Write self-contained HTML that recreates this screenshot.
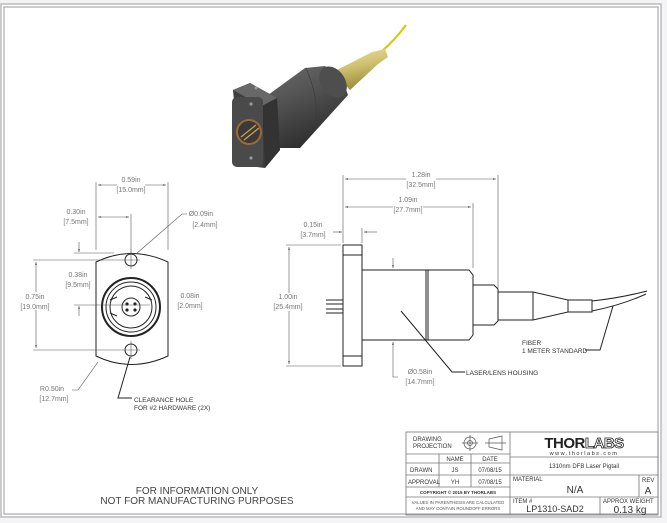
<!DOCTYPE html>
<html><head><meta charset="utf-8"><style>
body{margin:0;background:#f4f4f6;}
svg{display:block;font-family:"Liberation Sans",sans-serif;}
.d{font-size:7px;fill:#777;text-anchor:middle}
.l{font-size:6.5px;fill:#333}
.k{stroke:#222;stroke-width:1;fill:none}
.t{stroke:#555;stroke-width:.6;fill:none}
.tb{font-size:6px;fill:#333}
</style></head><body>
<svg width="667" height="523" viewBox="0 0 667 523">
<defs>
<marker id="a" viewBox="0 0 10 10" refX="10" refY="5" markerWidth="5" markerHeight="5" orient="auto-start-reverse"><path d="M0,2 L10,5 L0,8z" fill="#555"/></marker>
<linearGradient id="g1" x1="0" y1="0" x2="0.4" y2="1"><stop offset="0" stop-color="#6a6a6a"/><stop offset=".4" stop-color="#555"/><stop offset="1" stop-color="#2e2e2e"/></linearGradient>
<linearGradient id="g2" x1="0" y1="0" x2="0.3" y2="1"><stop offset="0" stop-color="#eee6a8"/><stop offset=".5" stop-color="#cfc070"/><stop offset="1" stop-color="#9a8c3a"/></linearGradient>
</defs>
<rect x="0" y="0" width="667" height="523" fill="#f4f4f6"/>
<rect x="1" y="4" width="660" height="513" fill="#fff" stroke="#bbb" stroke-width="1.5"/>
<rect x="4" y="7" width="654" height="507" fill="#fff" stroke="#999" stroke-width="1"/>

<!-- 3D render -->
<g>
<path d="M381,52 Q395,40 406,25" stroke="#d8c800" stroke-width="2" fill="none"/>
<polygon points="333,72 372,52 385,49 388,57 378,64 350,90" fill="url(#g2)"/>
<polygon points="268,95 305,68 325,66 342,78 348,95 300,148 280,148" fill="url(#g1)"/>
<ellipse cx="333" cy="82" rx="12" ry="17" transform="rotate(-35 333 82)" fill="#4e4e4e"/>
<path d="M306,68 Q320,100 315,125" stroke="#3a3a3a" stroke-width=".6" fill="none"/>
<polygon points="233,90 250,83 277,98 280,150 265,168 240,165" fill="#3e3e3e"/>
<path d="M233,90 L250,83 L277,98 L262,106z" fill="#686868"/>
<path d="M262,106 L277,98 L280,150 L265,168z" fill="#333"/>
<rect x="232" y="97" width="31" height="70" rx="5" fill="#4a4a4a"/>
<circle cx="249" cy="132" r="12" fill="#3a3a3a" stroke="#9a6a35" stroke-width="2"/>
<path d="M241,137 L256,125 M244,140 L259,128" stroke="#c8a050" stroke-width="1.3"/>
<circle cx="251" cy="104" r="1.6" fill="#999"/><circle cx="251" cy="158" r="1.6" fill="#999"/>
<circle cx="256" cy="88" r="1.5" fill="#999"/>
</g>

<!-- Front view -->
<g>
<path class="k" d="M96,262 Q131,245 168,262 L168,356 Q131,373 96,356 Z"/>
<circle class="k" cx="131" cy="260" r="6"/><circle class="k" cx="131" cy="350" r="6"/>
<path class="t" d="M122,260 H140 M131,251 V269 M122,350 H140 M131,341 V359"/>
<circle cx="131" cy="307" r="29" fill="none" stroke="#222" stroke-width="2"/>
<circle class="k" cx="131" cy="307" r="25"/>
<circle class="k" cx="131" cy="307" r="21"/>
<path class="k" d="M110,300 L117,297 M145,297 L152,300 M110,313 L117,316"/>
<circle class="k" cx="131" cy="307" r="9"/>
<circle cx="127" cy="304" r="1.6" fill="#222"/><circle cx="135" cy="304" r="1.6" fill="#222"/><circle cx="127" cy="310" r="1.6" fill="#222"/><circle cx="135" cy="310" r="1.6" fill="#222"/>
<path class="t" d="M96,250 V182 M168,250 V182 M131,254 V214"/>
<line class="t" x1="98" y1="185" x2="166" y2="185" marker-start="url(#a)" marker-end="url(#a)"/>
<rect x="117" y="176" width="28" height="18" fill="#fff"/>
<text class="d" x="131" y="182">0.59in</text><text class="d" x="131" y="192">[15.0mm]</text>
<line class="t" x1="98" y1="217" x2="129" y2="217" marker-start="url(#a)" marker-end="url(#a)"/>
<text class="d" x="76" y="214">0.30in</text><text class="d" x="76" y="224">[7.5mm]</text>
<text class="d" x="201" y="216">Ø0.09in</text><text class="d" x="205" y="227">[2.4mm]</text>
<polyline class="t" points="187,214 182,214 136,254"/>
<line class="t" x1="33" y1="260" x2="122" y2="260"/><line class="t" x1="33" y1="350" x2="122" y2="350"/>
<line class="t" x1="36" y1="262" x2="36" y2="348" marker-start="url(#a)" marker-end="url(#a)"/>
<rect x="24" y="292" width="24" height="18" fill="#fff"/>
<text class="d" x="35" y="299">0.75in</text><text class="d" x="35" y="309">[19.0mm]</text>
<path class="t" d="M74,253 H114 M74,305 H150"/>
<line class="t" x1="79" y1="242" x2="79" y2="252" marker-end="url(#a)"/>
<line class="t" x1="79" y1="316" x2="79" y2="306" marker-end="url(#a)"/>
<text class="d" x="78" y="277">0.38in</text><text class="d" x="78" y="287">[9.5mm]</text>
<text class="d" x="190" y="298">0.08in</text><text class="d" x="190" y="308">[2.0mm]</text>
<path class="t" d="M98,362 L78,390 H72"/>
<text class="d" x="52" y="391">R0.50in</text><text class="d" x="54" y="401">[12.7mm]</text>
<path class="k" stroke-width=".8" d="M130,357 L118,398 H132"/>
<text class="l" x="134" y="402">CLEARANCE HOLE</text><text class="l" x="134" y="410">FOR #2 HARDWARE (2X)</text>
</g>

<!-- Side view -->
<g>
<rect class="k" x="343" y="245" width="19" height="121"/>
<path class="k" d="M343,255 H362 M343,356 H362"/>
<path class="k" d="M326,300 H343 M326,304 H343 M326,309 H343 M326,313 H343"/>
<rect class="k" x="362" y="270" width="64" height="70"/>
<path class="k" d="M426,270 H469 L473,275 V335 L469,340 H426 M428,270 V340"/>
<path class="k" d="M473,285 H494 L498,289 V321 L494,325 H473"/>
<rect class="k" x="498" y="292" width="35" height="28"/>
<path class="k" d="M533,292 L568,300 V312 L533,320"/>
<rect class="k" x="568" y="300" width="24" height="12"/>
<path class="k" d="M592,301 Q620,298 647,291 M592,311 Q622,305 646,294"/>
<path class="t" d="M343,243 V175 M498,288 V175 M473,268 V203"/>
<line class="t" x1="345" y1="179" x2="496" y2="179" marker-start="url(#a)" marker-end="url(#a)"/>
<rect x="406" y="170" width="30" height="20" fill="#fff"/>
<text class="d" x="421" y="177">1.28in</text><text class="d" x="421" y="187">[32.5mm]</text>
<line class="t" x1="345" y1="207" x2="471" y2="207" marker-start="url(#a)" marker-end="url(#a)"/>
<rect x="393" y="198" width="30" height="20" fill="#fff"/>
<text class="d" x="408" y="202">1.09in</text><text class="d" x="408" y="212">[27.7mm]</text>
<path class="t" d="M362,243 V228"/>
<line class="t" x1="333" y1="232" x2="342" y2="232" marker-end="url(#a)"/>
<line class="t" x1="377" y1="232" x2="364" y2="232" marker-end="url(#a)"/>
<text class="d" x="313" y="227">0.15in</text><text class="d" x="313" y="237">[3.7mm]</text>
<path class="t" d="M286,245 H341 M286,366 H341"/>
<line class="t" x1="289" y1="247" x2="289" y2="364" marker-start="url(#a)" marker-end="url(#a)"/>
<rect x="276" y="293" width="26" height="18" fill="#fff"/>
<text class="d" x="288" y="299">1.00in</text><text class="d" x="288" y="309">[25.4mm]</text>
<line class="t" x1="393" y1="258" x2="393" y2="268" marker-end="url(#a)"/>
<line class="t" x1="393" y1="360" x2="393" y2="342" marker-end="url(#a)"/>
<path class="t" d="M393,360 V377 H398"/>
<text class="d" x="420" y="374">Ø0.58in</text><text class="d" x="420" y="384">[14.7mm]</text>
<path class="k" stroke-width=".8" d="M401,311 L452,372 H465"/>
<text class="l" x="466" y="375">LASER/LENS HOUSING</text>
<path class="k" stroke-width=".8" d="M613,306 L600,350 H585"/>
<text class="l" x="522" y="345">FIBER</text><text class="l" x="522" y="353">1 METER STANDARD</text>
</g>

<text x="197" y="494" font-size="10" fill="#444" text-anchor="middle">FOR INFORMATION ONLY</text>
<text x="197" y="504" font-size="10" fill="#444" text-anchor="middle">NOT FOR MANUFACTURING PURPOSES</text>

<!-- Title block -->
<g stroke="#777" stroke-width=".8" fill="none">
<rect x="406" y="432" width="252" height="83"/>
<path d="M510,432 V515 M406,454 H510 M406,463 H510 M406,475 H510 M406,487 H510 M406,497 H658 M439,454 V487 M471,454 V487 M510,457 H658 M510,475 H658 M639,475 V497 M600,497 V515"/>
</g>
<text class="tb" x="413" y="441">DRAWING</text><text class="tb" x="413" y="448">PROJECTION</text>
<circle cx="470" cy="443" r="6" fill="none" stroke="#555" stroke-width=".7"/><circle cx="470" cy="443" r="2.5" fill="none" stroke="#555" stroke-width=".7"/>
<path d="M462,443 H478 M470,435 V451 M489,439 L502,436 V450 L489,447 Z M485,443 H506" stroke="#555" stroke-width=".7" fill="none"/>
<text class="tb" x="455" y="461" text-anchor="middle">NAME</text><text class="tb" x="490" y="461" text-anchor="middle">DATE</text>
<text class="tb" x="410" y="472" font-size="5">DRAWN</text><text class="tb" x="455" y="472" text-anchor="middle">JS</text><text class="tb" x="490" y="472" text-anchor="middle">07/08/15</text>
<text class="tb" x="408" y="484" font-size="5">APPROVAL</text><text class="tb" x="455" y="484" text-anchor="middle">YH</text><text class="tb" x="490" y="484" text-anchor="middle">07/08/15</text>
<text x="458" y="494" font-size="4.5" font-weight="bold" fill="#333" text-anchor="middle">COPYRIGHT © 2015 BY THORLABS</text>
<text x="458" y="504" font-size="4.3" fill="#555" text-anchor="middle">VALUES IN PARENTHESIS ARE CALCULATED</text>
<text x="458" y="510" font-size="4.3" fill="#555" text-anchor="middle">AND MAY CONTAIN ROUNDOFF ERRORS</text>
<text x="584" y="448" font-size="15" font-weight="bold" fill="#222" text-anchor="middle" letter-spacing="-0.5">THOR<tspan fill="#fff" stroke="#222" stroke-width=".8">LABS</tspan></text>
<text x="584" y="455" font-size="5.5" fill="#333" text-anchor="middle" letter-spacing="1.5">www.thorlabs.com</text>
<text class="tb" x="584" y="468" text-anchor="middle">1310nm DFB Laser Pigtail</text>
<text class="tb" x="513" y="481">MATERIAL</text>
<text x="575" y="493" font-size="10" fill="#333" text-anchor="middle">N/A</text>
<text class="tb" x="642" y="482">REV</text><text x="648" y="494" font-size="10" fill="#333" text-anchor="middle">A</text>
<text class="tb" x="513" y="503">ITEM #</text>
<text x="555" y="512" font-size="9" fill="#333" text-anchor="middle">LP1310-SAD2</text>
<text class="tb" x="603" y="503">APPROX WEIGHT</text>
<text x="630" y="513" font-size="10" fill="#333" text-anchor="middle">0.13 kg</text>
</svg>
</body></html>
